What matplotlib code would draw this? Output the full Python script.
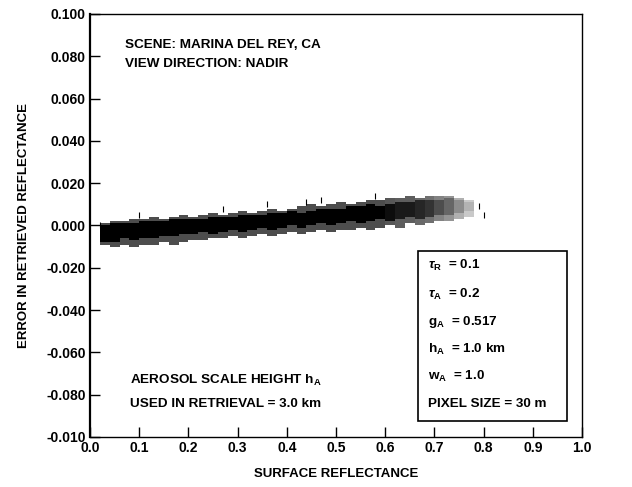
import numpy as np
import matplotlib.pyplot as plt

plt.rcParams['font.family'] = ['Liberation Sans', 'DejaVu Sans']
plt.rcParams['mathtext.fontset'] = 'custom'
plt.rcParams['mathtext.rm'] = 'Liberation Sans:bold'
plt.rcParams['mathtext.it'] = 'Liberation Sans:italic:bold'
plt.rcParams['mathtext.bf'] = 'Liberation Sans:bold'

# band of retrieval errors, read per 0.02 bin of surface reflectance
bin_x = [0.03, 0.05, 0.07, 0.09, 0.11, 0.13, 0.15, 0.17, 0.19, 0.21,
         0.23, 0.25, 0.27, 0.29, 0.31, 0.33, 0.35, 0.37, 0.39, 0.41,
         0.43, 0.45, 0.47, 0.49, 0.51, 0.53, 0.55, 0.57, 0.59, 0.61,
         0.63, 0.65, 0.67, 0.69, 0.71, 0.73, 0.75, 0.77]
core_lo = [-0.008, -0.008, -0.006, -0.007, -0.006, -0.006, -0.005, -0.005, -0.004, -0.004,
           -0.003, -0.004, -0.003, -0.002, -0.003, -0.002, -0.001, -0.002, -0.001, 0.000,
           -0.001, 0.000, 0.001, 0.000, 0.001, 0.002, 0.001, 0.002, 0.003, 0.002,
           0.003, 0.004, 0.003, 0.004, 0.005, 0.005, 0.006, 0.007]
core_hi = [0.000, 0.001, 0.001, 0.001, 0.002, 0.002, 0.002, 0.003, 0.003, 0.003,
           0.003, 0.004, 0.004, 0.004, 0.005, 0.005, 0.005, 0.006, 0.006, 0.007,
           0.006, 0.007, 0.008, 0.008, 0.008, 0.009, 0.009, 0.010, 0.009, 0.010,
           0.011, 0.011, 0.012, 0.012, 0.012, 0.013, 0.012, 0.011]
halo_lo = [-0.009, -0.010, -0.009, -0.010, -0.009, -0.009, -0.008, -0.009, -0.008, -0.007,
           -0.007, -0.006, -0.006, -0.005, -0.006, -0.005, -0.004, -0.005, -0.004, -0.003,
           -0.004, -0.003, -0.002, -0.003, -0.002, -0.002, -0.001, -0.002, -0.001, 0.000,
           -0.001, 0.001, 0.000, 0.001, 0.002, 0.002, 0.003, 0.004]
halo_hi = [0.001, 0.002, 0.002, 0.003, 0.003, 0.004, 0.003, 0.004, 0.005, 0.004,
           0.005, 0.006, 0.005, 0.006, 0.007, 0.006, 0.007, 0.008, 0.007, 0.008,
           0.009, 0.010, 0.009, 0.010, 0.011, 0.010, 0.011, 0.012, 0.012, 0.013,
           0.013, 0.014, 0.013, 0.014, 0.014, 0.014, 0.013, 0.012]
density = [1, 1, 1, 1, 1, 1, 1, 1, 1, 1,
           1, 1, 1, 1, 1, 1, 1, 1, 1, 1,
           1, 1, 1, 1, 1, 1, 1, 1, 1, 0.95,
           0.9, 0.9, 0.85, 0.8, 0.7, 0.6, 0.45, 0.3]

# scattered single pixels outside the band
out_x = [0.02, 0.10, 0.27, 0.36, 0.44, 0.47, 0.58, 0.79, 0.80]
out_y = [0.000, 0.005, 0.008, 0.010, 0.011, 0.012, 0.014, 0.009, 0.005]

y_ticks = [0.100, 0.080, 0.060, 0.040, 0.020, 0.000, -0.020, -0.040, -0.060, -0.080, -0.100]
y_labels = ['0.100', '0.080', '0.060', '0.040', '0.020', '0.000',
            '-0.020', '-0.040', '-0.060', '-0.080', '-0.010']
x_ticks = [0.0, 0.1, 0.2, 0.3, 0.4, 0.5, 0.6, 0.7, 0.8, 0.9, 1.0]

params = [r'$\it{\tau}_{\mathrm{R}}$  = 0.1', r'$\it{\tau}_{\mathrm{A}}$  = 0.2',
          r'g$_{\mathrm{A}}$  = 0.517', r'h$_{\mathrm{A}}$  = 1.0 km',
          r'w$_{\mathrm{A}}$  = 1.0', 'PIXEL SIZE = 30 m']

fig = plt.figure(figsize=(6.32, 4.87), dpi=100)
ax = fig.add_axes([0.1424, 0.1027, 0.7785, 0.8686])

w = 0.02
lo, hi = np.array(halo_lo), np.array(halo_hi)
halo_cols = [str(round(1 - 0.7 * d, 2)) for d in density]
ax.bar(bin_x, hi - lo, bottom=lo, width=w, color=halo_cols, linewidth=0, zorder=2)
lo, hi = np.array(core_lo), np.array(core_hi)
cols = [str(round(1 - d, 2)) for d in density]
ax.bar(bin_x, hi - lo, bottom=lo, width=w, color=cols, linewidth=0, zorder=3)
ax.scatter(out_x, out_y, marker='|', s=14, color='black', linewidths=0.8, zorder=4)

ax.set_xlim(0, 1.0)
ax.set_ylim(-0.1, 0.1)
ax.set_xticks(x_ticks)
ax.set_xticklabels([f'{t:.1f}' for t in x_ticks])
ax.set_yticks(y_ticks)
ax.set_yticklabels(y_labels)
ax.tick_params(direction='in', length=7, width=1.0, labelsize=10, pad=3)
for lab in ax.get_xticklabels() + ax.get_yticklabels():
    lab.set_fontweight('bold')
for s in ax.spines.values():
    s.set_linewidth(1.0)
ax.spines['left'].set_linewidth(1.6)

ax.set_xlabel('SURFACE REFLECTANCE', fontsize=9.5, fontweight='bold', labelpad=9)
ax.set_ylabel('ERROR IN RETRIEVED REFLECTANCE', fontsize=9.5, fontweight='bold', labelpad=12)

tk = dict(fontsize=9.7, fontweight='bold', va='center', ha='left')
ax.text(0.071, 0.0855, 'SCENE: MARINA DEL REY, CA', **tk)
ax.text(0.071, 0.0765, 'VIEW DIRECTION: NADIR', **tk)
ax.text(0.081, -0.0735, r'AEROSOL SCALE HEIGHT h$_{\mathrm{A}}$', **tk)
ax.text(0.081, -0.0845, 'USED IN RETRIEVAL = 3.0 km', **tk)

ax.add_patch(plt.Rectangle((0.667, -0.0925), 0.302, 0.0805, fill=False,
                           edgecolor='black', linewidth=1.2, zorder=5))
py = [-0.019, -0.0325, -0.0455, -0.0585, -0.0715, -0.0845]
for t, yv in zip(params, py):
    ax.text(0.686, yv, t, **tk)

fig.savefig('out.png', dpi=100)
